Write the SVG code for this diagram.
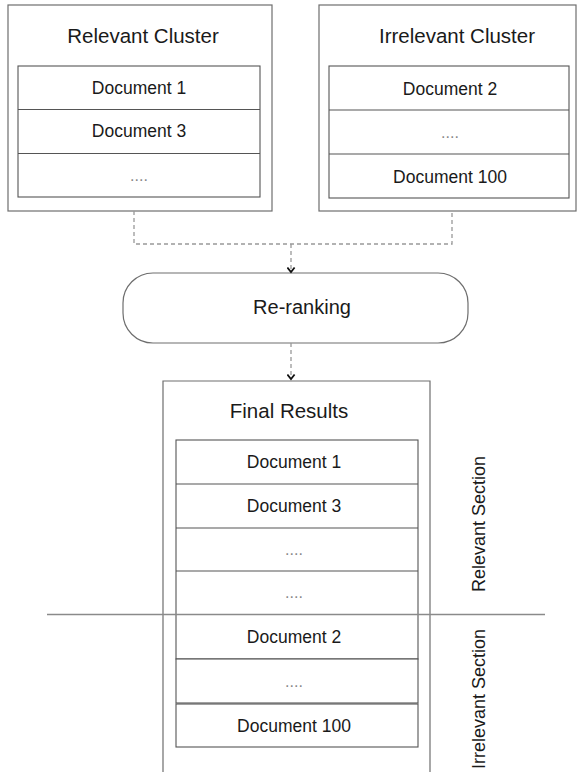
<svg xmlns="http://www.w3.org/2000/svg" width="577" height="772" viewBox="0 0 577 772">
<style>
.box{fill:#fff;stroke:#6e6e6e;stroke-width:1.2}
.open{fill:none;stroke:#6e6e6e;stroke-width:1.2}
.tbl{fill:#fff;stroke:#555;stroke-width:1.1}
.row{stroke:#555;stroke-width:1.1}
.title{font-family:"Liberation Sans",Arial,sans-serif;font-size:20.5px;fill:#1a1a1a;text-anchor:middle}
.doc{font-family:"Liberation Sans",Arial,sans-serif;font-size:17.5px;fill:#1a1a1a;text-anchor:middle}
.dots{font-family:"Liberation Sans",Arial,sans-serif;font-size:16px;fill:#888;text-anchor:middle}
.sec{font-family:"Liberation Sans",Arial,sans-serif;font-size:18px;fill:#1a1a1a;text-anchor:middle}
.dash{fill:none;stroke:#999;stroke-width:1.3;stroke-dasharray:4 3}
</style>
<defs>
<marker id="chev" viewBox="0 0 10 10" refX="8" refY="5" markerWidth="9" markerHeight="9" markerUnits="userSpaceOnUse" orient="auto">
<path d="M3,1 L8,5 L3,9" fill="none" stroke="#111" stroke-width="2"/>
</marker>
</defs>
<rect width="577" height="772" fill="#fff"/>

<g id="relevant-cluster">
<rect class="box" x="8" y="5" width="264" height="206"/>
<text class="title" x="143" y="43">Relevant Cluster</text>
<rect class="tbl" x="18" y="66" width="242" height="131"/>
<line class="row" x1="18" y1="109.5" x2="260" y2="109.5"/>
<line class="row" x1="18" y1="153.5" x2="260" y2="153.5"/>
<text class="doc" x="139" y="94">Document 1</text>
<text class="doc" x="139" y="137">Document 3</text>
<text class="dots" x="139" y="181">....</text>
</g>

<g id="irrelevant-cluster">
<rect class="box" x="319" y="5" width="257" height="206"/>
<text class="title" x="457" y="43">Irrelevant Cluster</text>
<rect class="tbl" x="329" y="66" width="240" height="132"/>
<line class="row" x1="329" y1="110" x2="569" y2="110"/>
<line class="row" x1="329" y1="154" x2="569" y2="154"/>
<text class="doc" x="450" y="95">Document 2</text>
<text class="dots" x="450" y="138">....</text>
<text class="doc" x="450" y="183">Document 100</text>
</g>

<g id="re-ranking">
<rect class="box" x="123" y="273" width="345" height="70" rx="30" ry="30"/>
<text class="title" x="302" y="314" style="font-size:20px">Re-ranking</text>
</g>

<g id="final-results">
<path class="open" d="M163,775 V381 H430 V775"/>
<text class="title" x="289" y="418">Final Results</text>
<rect class="tbl" x="176" y="440" width="242" height="219"/>
<line class="row" x1="176" y1="484" x2="418" y2="484"/>
<line class="row" x1="176" y1="528" x2="418" y2="528"/>
<line class="row" x1="176" y1="571" x2="418" y2="571"/>
<rect class="tbl" x="176" y="659" width="242" height="44"/>
<rect class="tbl" x="176" y="704" width="242" height="43"/>
<text class="doc" x="294" y="468">Document 1</text>
<text class="doc" x="294" y="512">Document 3</text>
<text class="dots" x="294" y="555">....</text>
<text class="dots" x="294" y="598">....</text>
<text class="doc" x="294" y="643">Document 2</text>
<text class="dots" x="294" y="687">....</text>
<text class="doc" x="294" y="732">Document 100</text>
</g>

<g id="relevant-section">
<text class="sec" transform="translate(485,524) rotate(-90)">Relevant Section</text>
</g>
<g id="irrelevant-section">
<text class="sec" transform="translate(485,699) rotate(-90)">Irrelevant Section</text>
</g>

<g id="connectors">
<path class="dash" d="M134,211 V244 H452 V211"/>
<path class="dash" d="M291,244 V272" marker-end="url(#chev)"/>
<path class="dash" d="M291,343 V379" marker-end="url(#chev)"/>
<line x1="47" y1="614.5" x2="545" y2="614.5" stroke="#8a8a8a" stroke-width="1.5"/>
</g>
</svg>
